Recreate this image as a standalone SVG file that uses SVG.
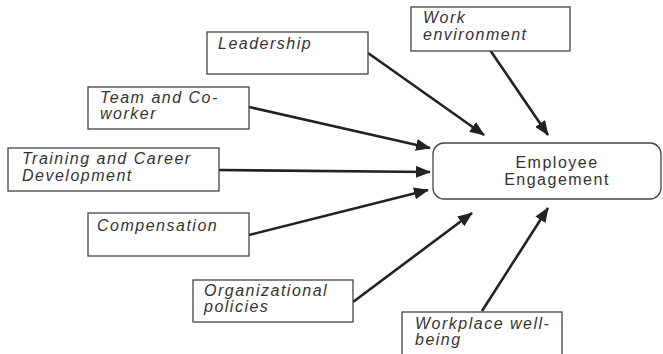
<svg xmlns="http://www.w3.org/2000/svg" width="663" height="354" viewBox="0 0 663 354">
<style>
.box{fill:#fff;stroke:#444;stroke-width:1.3}
.t{font-family:"Liberation Sans",Arial,sans-serif;font-size:16px;font-style:italic;fill:#333;letter-spacing:1.5px}
.c{font-family:"Liberation Sans",Arial,sans-serif;font-size:16px;fill:#333;letter-spacing:1.5px;text-anchor:middle}
.e{stroke:#222;stroke-width:2.6;fill:none;marker-end:url(#ah)}
</style>
<defs>
<marker id="ah" markerUnits="userSpaceOnUse" markerWidth="16" markerHeight="12" refX="14" refY="6" orient="auto">
<path d="M0,0 L15,6 L0,12 Z" fill="#222"/>
</marker>
</defs>
<rect width="663" height="354" fill="#fff"/>
<g id="edges">
<line class="e" x1="368" y1="53" x2="484" y2="135"/>
<line class="e" x1="490" y1="50" x2="548" y2="135"/>
<line class="e" x1="249" y1="107" x2="430" y2="148"/>
<line class="e" x1="219" y1="170" x2="430" y2="172"/>
<line class="e" x1="249" y1="235" x2="428" y2="190"/>
<line class="e" x1="353" y1="302" x2="472" y2="213"/>
<line class="e" x1="482" y1="311" x2="548" y2="208"/>
</g>
<g id="leadership">
<rect class="box" x="207" y="32" width="161" height="42"/>
<text class="t" x="218" y="49">Leadership</text>
</g>
<g id="work-environment">
<rect class="box" x="411" y="7" width="159" height="44"/>
<text class="t" x="423" y="23">Work</text>
<text class="t" x="423" y="40">environment</text>
</g>
<g id="team">
<rect class="box" x="88" y="87" width="161" height="42"/>
<text class="t" x="100" y="103">Team and Co-</text>
<text class="t" x="100" y="119">worker</text>
</g>
<g id="training">
<rect class="box" x="8" y="148" width="211" height="43"/>
<text class="t" x="22" y="164">Training and Career</text>
<text class="t" x="22" y="181">Development</text>
</g>
<g id="compensation">
<rect class="box" x="88" y="213" width="161" height="43"/>
<text class="t" x="97" y="231">Compensation</text>
</g>
<g id="organizational">
<rect class="box" x="193" y="280" width="160" height="42"/>
<text class="t" x="204" y="296">Organizational</text>
<text class="t" x="204" y="312">policies</text>
</g>
<g id="wellbeing">
<rect class="box" x="402" y="312" width="160" height="46"/>
<text class="t" x="415" y="329">Workplace well-</text>
<text class="t" x="415" y="345">being</text>
</g>
<g id="engagement">
<rect class="box" x="433" y="143" width="228" height="56" rx="11"/>
<text class="c" x="557" y="168">Employee</text>
<text class="c" x="557" y="185">Engagement</text>
</g>
</svg>
